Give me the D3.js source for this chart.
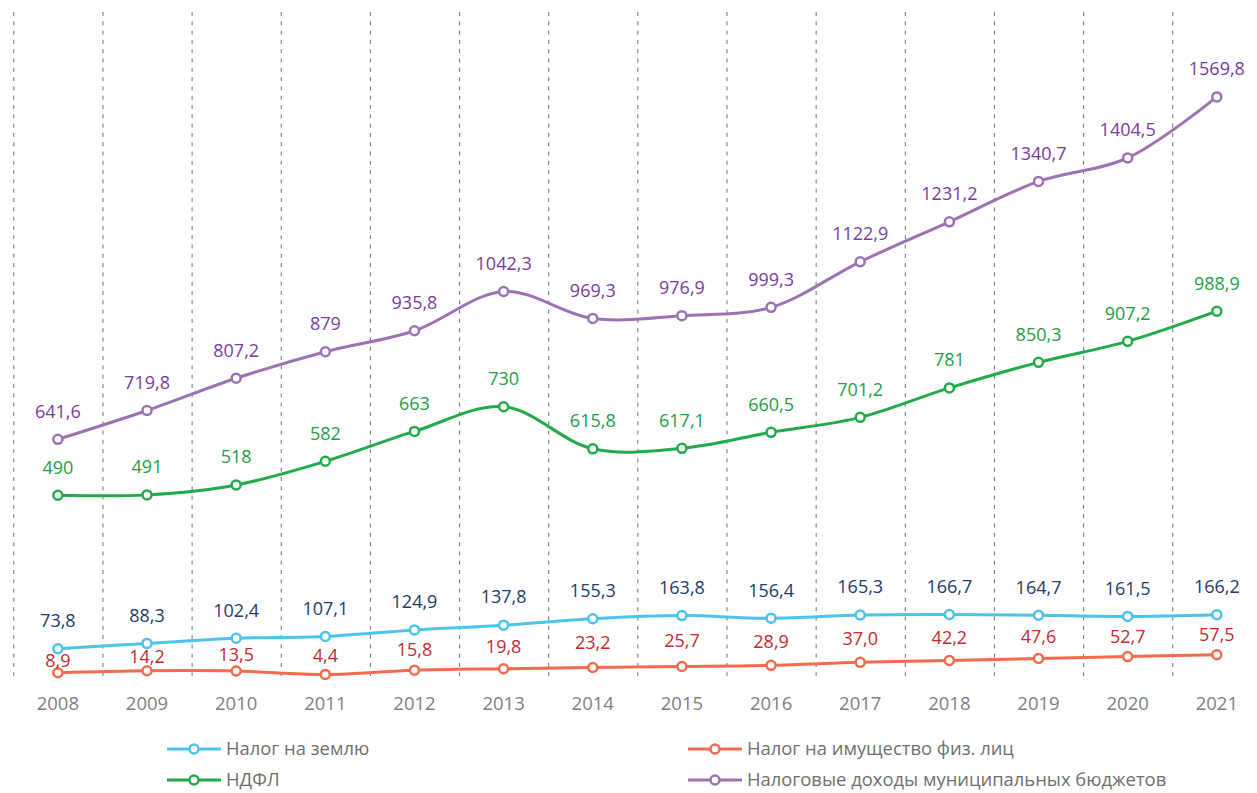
<!DOCTYPE html>
<html>
<head>
<meta charset="utf-8">
<script src="https://cdn.jsdelivr.net/npm/d3@7"></script>
<style>
  body { margin: 0; background: #fff; }
  svg { display: block; font-family: "Open Sans", sans-serif; }
</style>
</head>
<body>
<svg id="chart"></svg>
<script>
let width = 1257,
  height = 793;

// Data
const years = ["2008", "2009", "2010", "2011", "2012", "2013", "2014",
  "2015", "2016", "2017", "2018", "2019", "2020", "2021"];
const landTax = [73.8, 88.3, 102.4, 107.1, 124.9, 137.8, 155.3, 163.8, 156.4, 165.3, 166.7, 164.7, 161.5, 166.2];
const propertyTax = [8.9, 14.2, 13.5, 4.4, 15.8, 19.8, 23.2, 25.7, 28.9, 37.0, 42.2, 47.6, 52.7, 57.5];
const ndfl = [490, 491, 518, 582, 663, 730, 615.8, 617.1, 660.5, 701.2, 781, 850.3, 907.2, 988.9];
const totalTax = [641.6, 719.8, 807.2, 879, 935.8, 1042.3, 969.3, 976.9, 999.3, 1122.9, 1231.2, 1340.7, 1404.5, 1569.8];

const seriesNames = ["Налог на землю", "Налог на имущество физ. лиц", "НДФЛ", "Налоговые доходы муниципальных бюджетов"];

let svg = d3.select("#chart").attr("width", width).attr("height", height);

// Scales
let x = d3.scaleBand().domain(years).range([13.3, 13.3 + 14 * 89.15]);
let y = d3.scaleLinear().domain([0, 1800]).range([676, 12]);
let cx = (i) => x(years[i]) + x.bandwidth() / 2;

// Gridlines
svg.append("g")
  .selectAll("line")
  .data(years)
  .enter()
  .append("line")
  .attr("x1", (d) => x(d) + 0.5)
  .attr("x2", (d) => x(d) + 0.5)
  .attr("y1", 12)
  .attr("y2", 676)
  .attr("stroke", "#6f6f6f")
  .attr("stroke-width", 1)
  .attr("stroke-dasharray", "4,5.3");

// X axis labels
svg.append("g")
  .selectAll("text")
  .data(years)
  .enter()
  .append("text")
  .attr("x", (d, i) => cx(i))
  .attr("y", 704)
  .attr("dy", "0.35em")
  .attr("text-anchor", "middle")
  .attr("font-size", 18.5)
  .attr("fill", "#7f7f7f")
  .text((d) => d);

const fmt = (v) => String(v).replace(".", ",");
const fmt1 = (v) => v.toFixed(1).replace(".", ",");

let series = [
  { name: seriesNames[0], values: landTax, line: "#4cc3ea", label: "#213c67", fmt: fmt },
  { name: seriesNames[1], values: propertyTax, line: "#f26b4d", label: "#c42a30", fmt: fmt1 },
  { name: seriesNames[2], values: ndfl, line: "#22aa4b", label: "#1e9e47", fmt: fmt },
  { name: seriesNames[3], values: totalTax, line: "#9c72b5", label: "#7a3c9e", fmt: fmt },
];

let line = d3.line()
  .x((d, i) => cx(i))
  .y((d) => y(d))
  .curve(d3.curveCatmullRom.alpha(0.5));

// Lines and markers
series.forEach((s) => {
  let g = svg.append("g");
  g.append("path")
    .attr("d", line(s.values))
    .attr("fill", "none")
    .attr("stroke", s.line)
    .attr("stroke-width", 3);
  g.selectAll("circle")
    .data(s.values)
    .enter()
    .append("circle")
    .attr("cx", (d, i) => cx(i))
    .attr("cy", (d) => y(d))
    .attr("r", 4.5)
    .attr("fill", "#fff")
    .attr("stroke", s.line)
    .attr("stroke-width", 2.5);
});

// Data labels
series.forEach((s, si) => {
  svg.append("g")
    .selectAll("text")
    .data(s.values)
    .enter()
    .append("text")
    .attr("x", (d, i) => cx(i))
    .attr("y", (d, i) => {
      // property tax labels sit between its line and the land tax line
      if (si === 1) return (y(d) + y(landTax[i])) / 2;
      return y(d) - 28;
    })
    .attr("dy", "0.35em")
    .attr("text-anchor", "middle")
    .attr("font-size", 18)
    .attr("fill", s.label)
    .text((d) => s.fmt(d));
});

// Legend
let legendPos = [
  { x: 167, y: 749 },
  { x: 688, y: 749 },
  { x: 167, y: 780 },
  { x: 688, y: 780 },
];

let legend = svg.append("g")
  .selectAll("g")
  .data(series)
  .enter()
  .append("g")
  .attr("transform", (d, i) => "translate(" + legendPos[i].x + "," + legendPos[i].y + ")");

legend.append("line")
  .attr("x1", 0)
  .attr("x2", 54)
  .attr("stroke", (d) => d.line)
  .attr("stroke-width", 3);

legend.append("circle")
  .attr("cx", 27)
  .attr("r", 4.5)
  .attr("fill", "#fff")
  .attr("stroke", (d) => d.line)
  .attr("stroke-width", 2.5);

legend.append("text")
  .attr("x", 59)
  .attr("dy", "0.35em")
  .attr("font-size", 18.4)
  .attr("fill", "#6f6f6f")
  .text((d) => d.name);
</script>
</body>
</html>
